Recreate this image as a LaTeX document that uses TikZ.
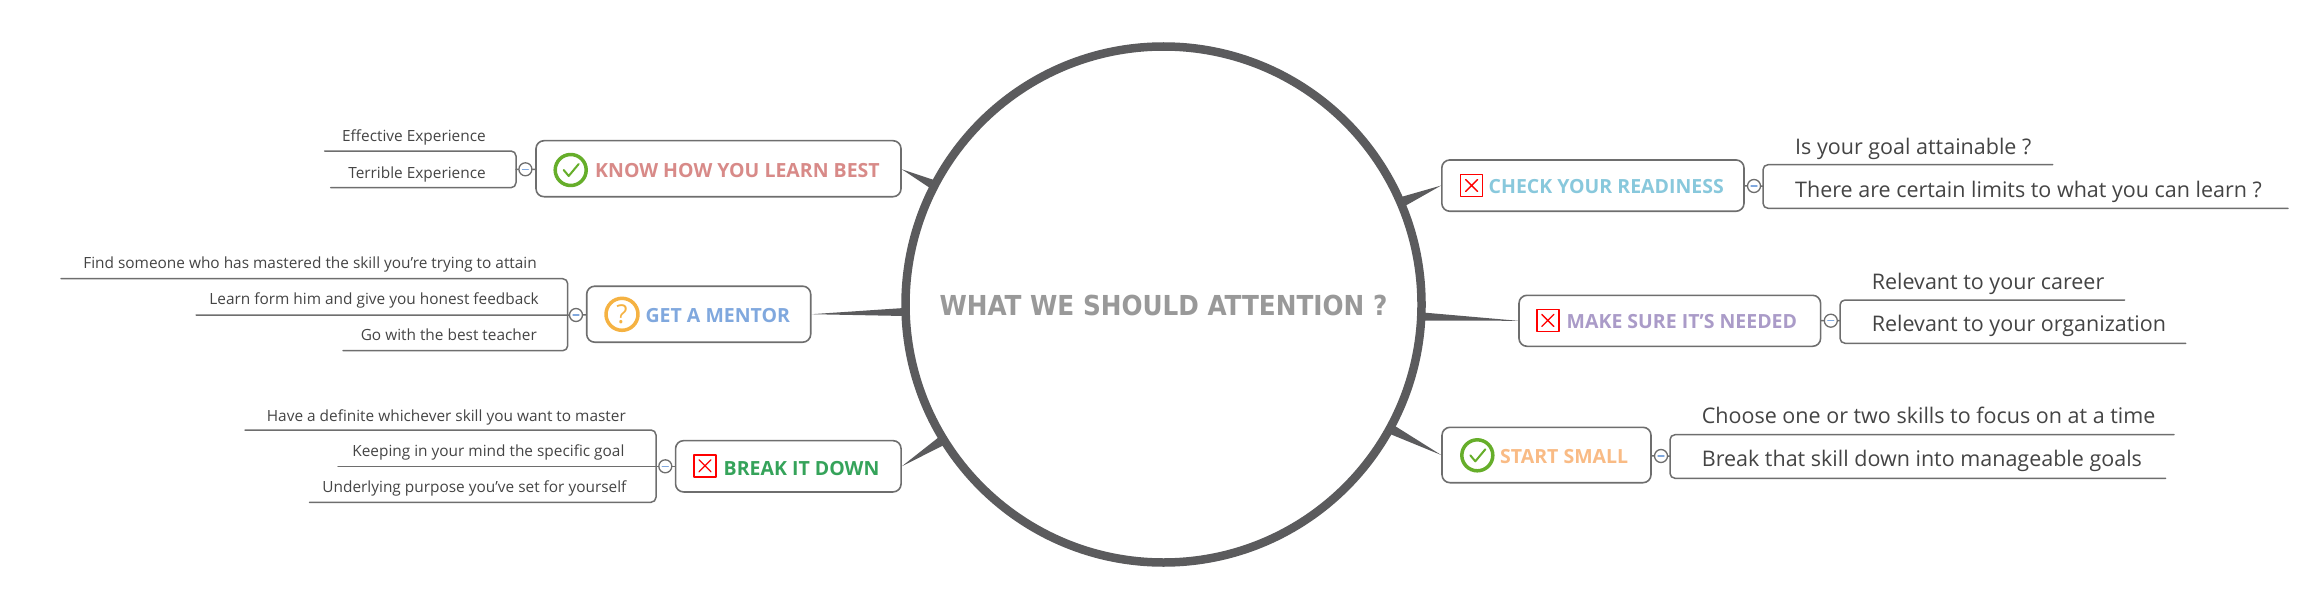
\documentclass[tikz,border=0pt]{standalone}
\usepackage{fontspec}
\setmainfont{Open Sans}
\newfontfamily\hubfont{DejaVu Sans Condensed}
\definecolor{hubgray}{HTML}{5B5B5D}
\definecolor{hubtext}{HTML}{999999}
\definecolor{leaftext}{HTML}{444444}
\definecolor{linegray}{HTML}{6E6E6E}
\definecolor{knowcol}{HTML}{D88A88}
\definecolor{mentorcol}{HTML}{80A8DE}
\definecolor{breakcol}{HTML}{35A35A}
\definecolor{checkcol}{HTML}{88C8DC}
\definecolor{surecol}{HTML}{AA9BC8}
\definecolor{startcol}{HTML}{F9BB85}
\definecolor{okgreen}{HTML}{66AE2A}
\definecolor{askorange}{HTML}{F5B242}
\tikzset{
  hub/.style={circle, draw=hubgray, fill=white, line width=8.5pt, minimum size=516pt, inner sep=0pt},
  topic/.style={draw=linegray, fill=white, rounded corners=8pt, line width=1.6pt, inner sep=0pt},
  label/.style={anchor=base west, inner sep=0pt, font=\fontsize{19.5}{22}\selectfont\bfseries},
  smallleaf/.style={anchor=base east, inner sep=0pt, text=leaftext, font=\fontsize{15.4}{18}\selectfont},
  bigleaf/.style={anchor=base west, inner sep=0pt, text=leaftext, font=\fontsize{21.5}{25}\selectfont},
  twig/.style={draw=linegray, line width=1.5pt, rounded corners=5pt},
  spoke/.style={fill=hubgray},
  fold/.style={circle, draw=linegray, fill=white, line width=1.3pt, minimum size=13pt, inner sep=0pt,
    path picture={\draw[mentorcol, line width=1.3pt] ([xshift=-3pt]path picture bounding box.center) -- ([xshift=3pt]path picture bounding box.center);}},
  okmark/.style={circle, draw=okgreen, fill=white, line width=3.5pt, minimum size=31pt, inner sep=0pt,
    path picture={\draw[okgreen, line width=2pt] ([shift={(-7pt,0pt)}]path picture bounding box.center) -- ([shift={(-2pt,-6pt)}]path picture bounding box.center) -- ([shift={(8pt,6pt)}]path picture bounding box.center);}},
  askmark/.style={circle, draw=askorange, fill=white, line width=3.5pt, minimum size=32pt, inner sep=0pt, text=askorange, font=\fontsize{26}{28}\selectfont},
  nomark/.style={rectangle, draw=red, fill=white, line width=1.5pt, minimum size=22pt, inner sep=0pt,
    path picture={\draw[red, line width=1.3pt] ([shift={(-6pt,-6pt)}]path picture bounding box.center) -- ([shift={(6pt,6pt)}]path picture bounding box.center) ([shift={(-6pt,6pt)}]path picture bounding box.center) -- ([shift={(6pt,-6pt)}]path picture bounding box.center);}}
}
\begin{document}
\begin{tikzpicture}[x=1pt, y=-1pt, line join=round, line cap=round]
\useasboundingbox (0,0) rectangle (2323,615);
\node[hub] (hub) at (1163.5,304.5) {};
\node[text=hubtext, inner sep=0pt, font=\hubfont\fontsize{27.5}{30}\selectfont\bfseries] (hubtxt) at (1163.5,305) {WHAT WE SHOULD ATTENTION ?};

\node[topic, minimum width=365pt, minimum height=56pt] (know) at (718.5,168.7) {};
\node[okmark] (knowicon) at (570.7,170) {};
\node[label, text=knowcol] (knowtxt) at (595,177) {KNOW HOW YOU LEARN BEST};
\node[fold] (knowfold) at (525.4,169.3) {};
\node[smallleaf] (knowa) at (486,142) {Effective Experience};
\node[smallleaf] (knowb) at (486,178) {Terrible Experience};
\coordinate (knowaend) at (324.5,151);
\coordinate (knowbend) at (330.7,187.7);
\coordinate (knowjoin) at (516,169.3);
\draw[twig] (knowaend) -| (knowjoin) |- (knowbend);
\draw[twig] (knowjoin) -- (knowfold) -- (know);
\coordinate (knowbasea) at (934,180);
\coordinate (knowbaseb) at (930,188);
\fill[spoke] (know.east |- knowfold) -- (knowbasea) -- (knowbaseb) -- cycle;

\node[topic, minimum width=224pt, minimum height=56pt] (mentor) at (698.7,314.2) {};
\node[askmark] (mentoricon) at (622,314.3) {?};
\node[label, text=mentorcol] (mentortxt) at (645.4,322) {GET A MENTOR};
\node[fold] (mentorfold) at (576,315) {};
\node[smallleaf] (mentora) at (537,268) {Find someone who has mastered the skill you're trying to attain};
\node[smallleaf] (mentorb) at (539,304) {Learn form him and give you honest feedback};
\node[smallleaf] (mentorc) at (537,340) {Go with the best teacher};
\coordinate (mentoraend) at (61,278.7);
\coordinate (mentorbend) at (196,315);
\coordinate (mentorcend) at (343,350.7);
\coordinate (mentorjoin) at (567.7,315);
\draw[twig] (mentoraend) -| (mentorjoin) |- (mentorcend);
\draw[twig] (mentorbend) -- (mentorfold) -- (mentor);
\coordinate (mentorbasea) at (904,308);
\coordinate (mentorbaseb) at (904,316);
\fill[spoke] (mentor.east) -- (mentorbasea) -- (mentorbaseb) -- cycle;

\node[topic, minimum width=225.5pt, minimum height=51.3pt] (breakit) at (788.3,466.3) {};
\node[nomark] (breakicon) at (705,465.8) {};
\node[label, text=breakcol] (breaktxt) at (723.5,475) {BREAK IT DOWN};
\node[fold] (breakfold) at (665.3,466.3) {};
\node[smallleaf] (breaka) at (626,421) {Have a definite whichever skill you want to master};
\node[smallleaf] (breakb) at (624.6,456.7) {Keeping in your mind the specific goal};
\node[smallleaf] (breakc) at (626.6,492.7) {Underlying purpose you've set for yourself};
\coordinate (breakaend) at (245,430);
\coordinate (breakbend) at (338,466.3);
\coordinate (breakcend) at (309.5,502.3);
\coordinate (breakjoin) at (656,466.3);
\draw[twig] (breakaend) -| (breakjoin) |- (breakcend);
\draw[twig] (breakbend) -- (breakfold) -- (breakit);
\coordinate (breakbasea) at (939,437);
\coordinate (breakbaseb) at (944,445);
\fill[spoke] (breakit.east) -- (breakbasea) -- (breakbaseb) -- cycle;

\node[topic, minimum width=302.2pt, minimum height=51.3pt] (check) at (1592.9,185.6) {};
\node[nomark] (checkicon) at (1471.6,185.5) {};
\node[label, text=checkcol] (checktxt) at (1488.5,193.3) {CHECK YOUR READINESS};
\node[fold] (checkfold) at (1754,186) {};
\node[bigleaf] (checka) at (1795,154) {Is your goal attainable ?};
\node[bigleaf] (checkb) at (1795,197.3) {There are certain limits to what you can learn ?};
\coordinate (checkaend) at (2052.7,164.7);
\coordinate (checkbend) at (2288,208.3);
\coordinate (checkjoin) at (1763,186);
\draw[twig] (checkaend) -| (checkjoin) |- (checkbend);
\draw[twig] (check) -- (checkfold) -- (checkjoin);
\coordinate (checkbasea) at (1401,197);
\coordinate (checkbaseb) at (1405,206);
\fill[spoke] (check.west) -- (checkbasea) -- (checkbaseb) -- cycle;

\node[topic, minimum width=301.6pt, minimum height=51pt] (sure) at (1669.8,320.8) {};
\node[nomark] (sureicon) at (1547.8,320.4) {};
\node[label, text=surecol] (suretxt) at (1566.5,328) {MAKE SURE IT'S NEEDED};
\node[fold] (surefold) at (1830.8,320.7) {};
\node[bigleaf] (surea) at (1871.6,289) {Relevant to your career};
\node[bigleaf] (sureb) at (1871.6,331.7) {Relevant to your organization};
\coordinate (sureaend) at (2124.6,300);
\coordinate (surebend) at (2185.7,343.3);
\coordinate (surejoin) at (1840,320.7);
\draw[twig] (sureaend) -| (surejoin) |- (surebend);
\draw[twig] (sure) -- (surefold) -- (surejoin);
\coordinate (surebasea) at (1423,312.5);
\coordinate (surebaseb) at (1423,320.5);
\fill[spoke] (sure.west) -- (surebasea) -- (surebaseb) -- cycle;

\node[topic, minimum width=209pt, minimum height=55.4pt] (start) at (1546.5,455) {};
\node[okmark] (starticon) at (1477.3,455.3) {};
\node[label, text=startcol] (starttxt) at (1500,463) {START SMALL};
\node[fold] (startfold) at (1661,456) {};
\node[bigleaf] (starta) at (1701.6,423.3) {Choose one or two skills to focus on at a time};
\node[bigleaf] (startb) at (1701.6,466.7) {Break that skill down into manageable goals};
\coordinate (startaend) at (2174,434.7);
\coordinate (startbend) at (2165.6,478.3);
\coordinate (startjoin) at (1670,456);
\draw[twig] (startaend) -| (startjoin) |- (startbend);
\draw[twig] (start) -- (startfold) -- (startjoin);
\coordinate (startbasea) at (1395,426);
\coordinate (startbaseb) at (1390,434);
\fill[spoke] (start.west) -- (startbasea) -- (startbaseb) -- cycle;
\end{tikzpicture}
\end{document}
